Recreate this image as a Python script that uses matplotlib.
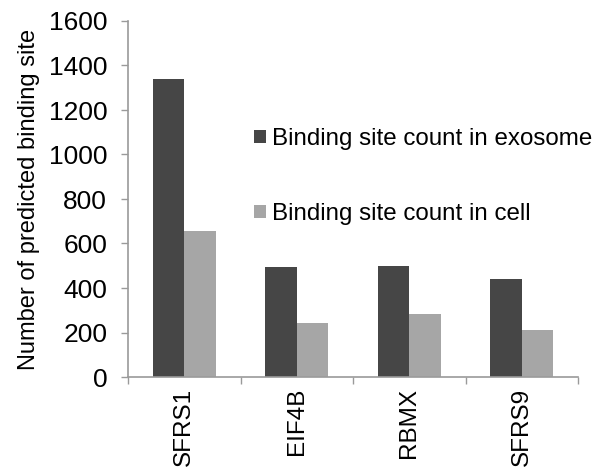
import numpy as np
import matplotlib.pyplot as plt
from matplotlib.ticker import FixedLocator

proteins = ['SFRS1', 'EIF4B', 'RBMX', 'SFRS9']
exosome_counts = [1340, 495, 500, 440]
cell_counts = [655, 243, 285, 210]
series_labels = ['Binding site count in exosome', 'Binding site count in cell']
yticks = [0, 200, 400, 600, 800, 1000, 1200, 1400, 1600]

plt.rcParams['font.family'] = ['Liberation Sans', 'DejaVu Sans']

fig = plt.figure(figsize=(5.95, 4.69), dpi=100)
ax = fig.add_axes([128 / 595, 1 - 377 / 469, 450 / 595, 356 / 469])

x = np.arange(len(proteins))
w = 0.28
ax.bar(x - w / 2, exosome_counts, w, color='#464646', label=series_labels[0])
ax.bar(x + w / 2, cell_counts, w, color='#a6a6a6', label=series_labels[1])

ax.set_xlim(-0.5, len(proteins) - 0.5)
ax.set_ylim(0, 1600)
ax.set_yticks(yticks)
ax.set_xticks(x)
ax.set_xticklabels(proteins, rotation=90, fontsize=17.5)
ax.xaxis.set_minor_locator(FixedLocator(np.arange(-0.5, len(proteins), 1.0)))
ax.tick_params(axis='x', which='major', length=0, pad=8)
ax.tick_params(axis='x', which='minor', length=5, width=1, color='#9a9a9a', direction='out')
ax.tick_params(axis='y', length=5, width=1, color='#9a9a9a', labelsize=19, pad=10)

for s in ['top', 'right']:
    ax.spines[s].set_visible(False)
for s in ['left', 'bottom']:
    ax.spines[s].set_color('#9a9a9a')
    ax.spines[s].set_linewidth(1.2)

ax.set_ylabel('Number of predicted binding site', fontsize=17, labelpad=6)

ax.legend(loc='upper left', bbox_to_anchor=(254 / 595, 1 - 128 / 469),
          bbox_transform=fig.transFigure, frameon=False, fontsize=17.4,
          handlelength=0.5, handleheight=0.5, handletextpad=0.25,
          labelspacing=2.2, borderpad=0, borderaxespad=0)

fig.savefig('out.png', dpi=100)
